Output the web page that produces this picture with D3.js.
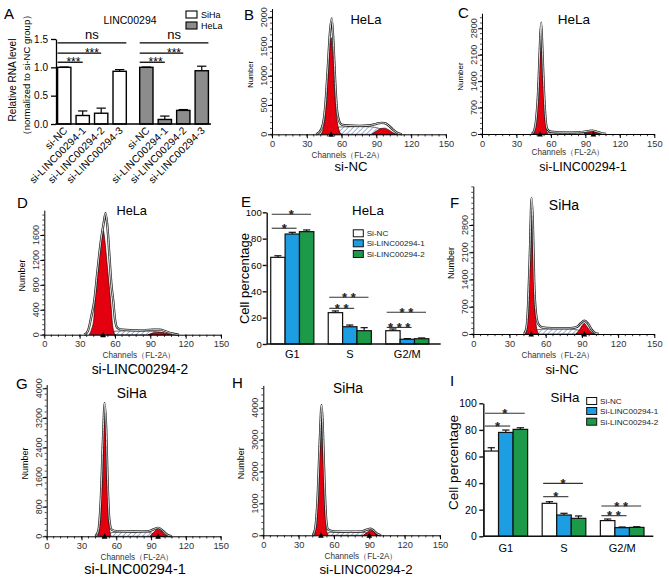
<!DOCTYPE html>
<html><head><meta charset="utf-8">
<script src="https://cdn.jsdelivr.net/npm/d3@7"></script>
<style>body{margin:0;background:#fff}svg{display:block}</style>
</head><body><svg id="c" width="669" height="578"></svg>
<script>
// ================= DATA =================
// Panel A: relative RNA level
const rnaGroups = ["SiHa", "HeLa"];
const rnaCategories = ["si-NC", "si-LINC00294-1", "si-LINC00294-2", "si-LINC00294-3"];
const rnaSiHa = [1.00, 0.15, 0.19, 0.93];
const rnaSiHaErr = [0.005, 0.08, 0.09, 0.03];
const rnaHeLa = [1.00, 0.08, 0.24, 0.94];
const rnaHeLaErr = [0.005, 0.06, 0.015, 0.08];
const rnaTicks = [0, 0.5, 1.0, 1.5];
// brackets: [from, to, y value, label, labelFrom, labelTo]
const rnaBrackets = [[0, 3, 1.43, "ns", 0, 3], [0, 2, 1.25, "***", 1, 2], [0, 1, 1.09, "***", 0, 1]];

// Cell-cycle percentages (panels E and I)
const phases = ["G1", "S", "G2/M"];
const treatments = ["Si-NC", "Si-LINC00294-1", "Si-LINC00294-2"];
const pctTicks = [0, 20, 40, 60, 80, 100];
const helaNC = [65.8, 23.8, 10.1];
const helaKD1 = [83.5, 13.1, 3.6];
const helaKD2 = [85.3, 10.1, 4.0];
const helaNCErr = [1.2, 1.3, 1.3];
const helaKD1Err = [1.3, 1.3, 0.5];
const helaKD2Err = [1.3, 2.3, 0.6];
const sihaNC = [64.1, 24.8, 11.8];
const sihaKD1 = [78.1, 16.0, 6.5];
const sihaKD2 = [80.4, 13.5, 6.7];
const sihaNCErr = [2.5, 1.2, 1.2];
const sihaKD1Err = [1.8, 1.3, 0.5];
const sihaKD2Err = [1.2, 1.8, 0.5];
// brackets: [phase index, from treatment, to treatment, y value, label]
const helaBrackets = [[0, 0, 2, 98.5, "*"], [0, 0, 1, 87.9, "*"], [1, 0, 2, 35.5, "* *"], [1, 0, 1, 27.1, "* *"], [2, 0, 2, 24.1, "* *"], [2, 0, 1, 12.6, "* * *"]];
const sihaBrackets = [[0, 0, 2, 92.5, "*"], [0, 0, 1, 82.9, "*"], [1, 0, 2, 39.8, "*"], [1, 0, 1, 29.8, "*"], [2, 0, 2, 22.8, "* *"], [2, 0, 1, 15.5, "* *"]];

// Flow-cytometry histograms: [channel, count]
const channelTicks = [0, 30, 60, 90, 120, 150];
// B: HeLa si-NC
const helaNC_total = [[38,0],[41,40],[44,180],[46,500],[48,1100],[50,1750],[51.5,1980],[53,1550],[54.5,900],[56,420],[58,220],[60,165],[65,150],[75,145],[85,155],[90,180],[94,195],[97,190],[100,160],[104,85],[108,25],[112,0]];
const helaNC_g1 = [[42,0],[44,80],[46,350],[48,900],[50,1500],[51,1650],[52.5,1350],[54,700],[56,250],[58,60],[60,0]];
const helaNC_g2 = [[86,0],[90,55],[94,100],[97,105],[101,70],[105,20],[108,0]];
const helaNC_s = [[51,0],[54,90],[58,125],[70,130],[82,130],[90,115],[96,70],[102,25],[106,0]];
const helaNC_marks = [51];
const helaNC_yticks = [0, 500, 1000, 1500, 2000];
// C: HeLa si-LINC00294-1
const helaKD1_total = [[43,0],[45,60],[47,350],[49,1200],[50.5,2400],[51.5,2950],[52.5,2300],[54,1100],[55.5,350],[57,120],[60,60],[70,45],[85,50],[92,75],[96,90],[100,60],[104,20],[108,0]];
const helaKD1_g1 = [[44.5,0],[46.5,200],[48.5,900],[50,2100],[51.5,2930],[52.5,2200],[54,900],[55.5,250],[57,0]];
const helaKD1_g2 = [[89,0],[93,45],[97,70],[101,40],[105,0]];
const helaKD1_s = [[54,0],[58,40],[70,40],[85,40],[92,28],[98,0]];
const helaKD1_marks = [50.5, 97];
const helaKD1_yticks = [0, 700, 1400, 2100, 2800];
// D: HeLa si-LINC00294-2
const helaKD2_total = [[34,0],[37,60],[40,300],[42.5,550],[45,1000],[48,1500],[50.5,1800],[52,1950],[53.5,1750],[55.5,1200],[57,800],[58.5,550],[60,250],[62,110],[66,80],[80,70],[92,80],[98,80],[103,55],[108,20],[114,0]];
const helaKD2_g1 = [[38,0],[40,80],[42,250],[43,550],[45,950],[47,1300],[48.5,1550],[50,1670],[51.5,1500],[53,1200],[55,800],[56.5,500],[58,150],[60,0]];
const helaKD2_g2 = [[88,0],[93,30],[98,40],[103,25],[108,0]];
const helaKD2_s = [[53,0],[57,50],[65,60],[80,60],[92,55],[100,32],[106,0]];
const helaKD2_marks = [50];
const helaKD2_yticks = [0, 400, 800, 1200, 1600];
// F: SiHa si-NC
const sihaNC_total = [[42,0],[44,150],[45.5,800],[47,2200],[48.3,3500],[49.3,2900],[50.5,1300],[52,520],[54,250],[57,170],[65,150],[80,150],[86,185],[89,270],[92,340],[95,270],[98,115],[101,25],[104,0]];
const sihaNC_g1 = [[43,0],[45,400],[46.5,1500],[48,3450],[49.2,2700],[50.5,1100],[52,250],[54,0]];
const sihaNC_g2 = [[85,0],[88,110],[90.5,230],[92,275],[94,200],[97,70],[100,0]];
const sihaNC_s = [[50,0],[53,110],[60,125],[75,125],[85,115],[90,70],[95,15],[98,0]];
const sihaNC_marks = [48, 92];
const sihaNC_yticks = [0, 700, 1400, 2100, 2800];
// G: SiHa si-LINC00294-1
const sihaKD1_total = [[42,0],[44.5,150],[46.5,900],[48.5,2600],[50,3600],[51.3,2900],[52.5,1500],[54,450],[56,180],[60,140],[75,130],[88,140],[92,185],[96,230],[100,155],[104,40],[108,0]];
const sihaKD1_g1 = [[44,0],[46,400],[48,1700],[49.7,3450],[51,2600],[52.5,1100],[54,250],[55.5,0]];
const sihaKD1_g2 = [[89,0],[92,100],[95.5,190],[99,130],[102,40],[105,0]];
const sihaKD1_s = [[52,0],[56,100],[70,115],[86,115],[92,70],[98,15],[102,0]];
const sihaKD1_marks = [50, 96];
const sihaKD1_yticks = [0, 800, 1600, 2400, 3200, 4000];
// H: SiHa si-LINC00294-2
const sihaKD2_total = [[42,0],[44,200],[46,1100],[48,3000],[49.5,4080],[50.5,3400],[52,1600],[53.5,450],[55,180],[60,125],[75,115],[84,125],[88,180],[91,205],[94,140],[97,40],[100,0]];
const sihaKD2_g1 = [[43.5,0],[45.5,600],[47.5,2200],[49,3820],[50.3,3000],[51.8,1200],[53.5,200],[55,0]];
const sihaKD2_g2 = [[85,0],[88,90],[91,160],[94,110],[97,25],[99,0]];
const sihaKD2_s = [[52,0],[56,90],[70,100],[84,100],[90,50],[95,10],[98,0]];
const sihaKD2_marks = [49, 90];
const sihaKD2_yticks = [0, 1000, 2000, 3000, 4000];

// ================= DRAWING =================
const FONT = '"Liberation Sans", Arial, Helvetica, sans-serif';
const svg = d3.select("#c");
svg.append("rect").attr("width", 669).attr("height", 578).attr("fill", "#fff");
const defs = svg.append("defs");
const pat = defs.append("pattern").attr("id", "hatch").attr("width", 3.5).attr("height", 3.5)
  .attr("patternUnits", "userSpaceOnUse").attr("patternTransform", "rotate(45)");
pat.append("rect").attr("width", 3.5).attr("height", 3.5).attr("fill", "#fff");
pat.append("line").attr("x1", 0).attr("y1", 0).attr("x2", 0).attr("y2", 3.5).attr("stroke", "#5474b8").attr("stroke-width", 1.1);

function txt(g, x, y, s, size, o = {}) {
  const t = g.append("text").attr("x", x).attr("y", y).text(s)
    .attr("font-size", size).attr("font-family", FONT).attr("fill", o.fill || "#000");
  if (o.anchor) t.attr("text-anchor", o.anchor);
  if (o.rotate != null) t.attr("transform", `rotate(${o.rotate},${x},${y})`);
  if (o.weight) t.attr("font-weight", o.weight);
  if (o.ls) t.attr("letter-spacing", o.ls);
  return t;
}

// ---------- Panel A ----------
(function () {
  const g = svg.append("g");
  const y = d3.scaleLinear().domain([0, 1.5]).range([124, 39]);
  const xo = d3.scaleBand().domain(rnaGroups).range([55, 211]).paddingInner(0.1).paddingOuter(0);
  const xi = d3.scaleBand().domain(rnaCategories).range([0, xo.bandwidth()]).paddingInner(0.28).paddingOuter(0.14);
  const bw = xi.bandwidth();
  const vals = { SiHa: rnaSiHa, HeLa: rnaHeLa };
  const errs = { SiHa: rnaSiHaErr, HeLa: rnaHeLaErr };
  const fills = { SiHa: "#ffffff", HeLa: "#8c8c8c" };
  rnaGroups.forEach(gr => {
    rnaCategories.forEach((c, i) => {
      const bx = xo(gr) + xi(c);
      const v = vals[gr][i], e = errs[gr][i];
      g.append("line").attr("x1", bx + bw / 2).attr("x2", bx + bw / 2).attr("y1", y(v)).attr("y2", y(v + e)).attr("stroke", "#000").attr("stroke-width", 1.2);
      g.append("line").attr("x1", bx + bw * 0.15).attr("x2", bx + bw * 0.85).attr("y1", y(v + e)).attr("y2", y(v + e)).attr("stroke", "#000").attr("stroke-width", 1.2);
      g.append("rect").attr("x", bx).attr("y", y(v)).attr("width", bw).attr("height", y(0) - y(v))
        .attr("fill", fills[gr]).attr("stroke", "#000").attr("stroke-width", 1.4);
      const lx = bx + bw / 2 + 4;
      txt(g, lx, 131, c, 10.3, { anchor: "end", rotate: -45, ls: 0.2 });
    });
    rnaBrackets.forEach(b => {
      const x0 = xo(gr) + xi(rnaCategories[b[0]]);
      const x1 = b[1] === 3 ? xo(gr) + xi(rnaCategories[b[1]]) + bw : xo(gr) + xi(rnaCategories[b[1]]) + bw / 2;
      g.append("line").attr("x1", x0).attr("x2", x1).attr("y1", y(b[2])).attr("y2", y(b[2])).attr("stroke", "#000").attr("stroke-width", 1.3);
      const cx = (xo(gr) + xi(rnaCategories[b[4]]) + xo(gr) + xi(rnaCategories[b[5]]) + bw) / 2;
      if (b[3] === "ns") txt(g, cx, y(b[2]) - 4, b[3], 13, { anchor: "middle" });
      else txt(g, cx, y(b[2]) + 3.8, b[3], 12, { anchor: "middle" });
    });
  });
  const ya = g.append("g").attr("transform", "translate(56,0)")
    .call(d3.axisLeft(y).tickValues(rnaTicks).tickFormat(d3.format(".1f")).tickSize(5).tickSizeOuter(0).tickPadding(3));
  ya.selectAll("text").attr("font-size", 10).attr("font-family", FONT);
  ya.selectAll("path,line").attr("stroke", "#000").attr("stroke-width", 1.3);
  g.append("line").attr("x1", 55.5).attr("x2", 211).attr("y1", y(0)).attr("y2", y(0)).attr("stroke", "#000").attr("stroke-width", 1.4);
  txt(g, 16, 80, "Relative RNA level", 10, { anchor: "middle", rotate: -90 });
  txt(g, 30, 75, "（normalized to si-NC group）", 9.5, { anchor: "middle", rotate: -90 });
  txt(g, 130, 24, "LINC00294", 10.5, { anchor: "middle" });
  g.append("rect").attr("x", 186).attr("y", 11).attr("width", 11).attr("height", 7).attr("fill", "#fff").attr("stroke", "#000").attr("stroke-width", 1.1);
  g.append("rect").attr("x", 186).attr("y", 22).attr("width", 11).attr("height", 7).attr("fill", "#8c8c8c").attr("stroke", "#000").attr("stroke-width", 1.1);
  txt(g, 201, 17.5, "SiHa", 9);
  txt(g, 201, 28.5, "HeLa", 9);
  txt(g, 4, 19, "A", 15);
})();

// ---------- Flow histogram panels ----------
function flowPanel(p) {
  const g = svg.append("g");
  const x = d3.scaleLinear().domain([0, 150]).range([p.x0, p.x1]);
  const y = d3.scaleLinear().domain([0, p.ymax]).range([p.base, p.top]);
  const area = d3.area().x(d => x(d[0])).y0(y(0)).y1(d => y(d[1])).curve(d3.curveMonotoneX);
  const line = d3.line().x(d => x(d[0])).y(d => y(d[1])).curve(d3.curveMonotoneX);
  g.append("path").datum(p.s).attr("d", area).attr("fill", "url(#hatch)").attr("stroke", "#333").attr("stroke-width", 0.7);
  g.append("path").datum(p.g1).attr("d", area).attr("fill", "#e3000f").attr("stroke", "#3a0000").attr("stroke-width", 0.7);
  g.append("path").datum(p.g2).attr("d", area).attr("fill", "#e3000f").attr("stroke", "#3a0000").attr("stroke-width", 0.7);
  g.append("path").datum(p.total).attr("d", line).attr("fill", "none").attr("stroke", "#1a1a1a").attr("stroke-width", 2.3);
  g.append("path").datum(p.total).attr("d", line).attr("fill", "none").attr("stroke", "#f2f2f2").attr("stroke-width", 0.9);
  // x axis
  const xa = g.append("g").attr("transform", `translate(0,${p.base})`)
    .call(d3.axisBottom(x).tickValues(channelTicks).tickSize(4).tickSizeOuter(0).tickPadding(2));
  xa.selectAll("text").attr("font-size", 9.3).attr("font-family", FONT).attr("fill", "#333");
  xa.selectAll("path,line").attr("stroke", "#000").attr("stroke-width", 1);
  g.selectAll(null).data(d3.range(0, 151, 6)).enter().append("line")
    .attr("x1", d => x(d)).attr("x2", d => x(d)).attr("y1", p.base).attr("y2", p.base + 2.2).attr("stroke", "#000").attr("stroke-width", 0.8);
  // y axis
  const ya = g.append("g").attr("transform", `translate(${p.x0},0)`)
    .call(d3.axisLeft(y).tickValues(p.yticks).tickSize(4).tickSizeOuter(0).tickFormat(""));
  ya.selectAll("path,line").attr("stroke", "#000").attr("stroke-width", 1);
  const step = p.yticks[1] / 5;
  g.selectAll(null).data(d3.range(0, p.ymax, step)).enter().append("line")
    .attr("x1", p.x0).attr("x2", p.x0 - 2).attr("y1", d => y(d)).attr("y2", d => y(d)).attr("stroke", "#000").attr("stroke-width", 0.7);
  p.yticks.forEach(t => txt(g, p.x0 - 5, y(t), String(t), 9, { anchor: "middle", rotate: -90, fill: "#333" }));
  // markers
  p.marks.forEach(m => {
    const mx = x(m);
    g.append("path").attr("d", `M${mx - 2.8},${p.base + 2.5}L${mx + 2.8},${p.base + 2.5}L${mx},${p.base - 3}Z`).attr("fill", "#000");
  });
  txt(g, p.x0 - 22 + p.numSize * 0.35, (p.base + p.top) / 2 + 3, "Number", p.numSize, { anchor: "middle", rotate: -90 });
  txt(g, p.chanX, p.chanY + 1.5, "Channels（FL-2A）", 8.2, { anchor: "middle", fill: "#333" });
  txt(g, p.titleX, p.titleY, p.title, p.titleSize, { anchor: "middle" });
  txt(g, p.sampleX, p.sampleY + 0.5, p.sample, p.sampleSize, { anchor: "middle" });
  txt(g, p.letterX, p.letterY, p.letter, 15);
}

flowPanel({ x0: 272, x1: 446, base: 134.3, top: 8.5, ymax: 2150, yticks: helaNC_yticks,
  total: helaNC_total, g1: helaNC_g1, g2: helaNC_g2, s: helaNC_s, marks: helaNC_marks, numSize: 7.5,
  chanX: 348, chanY: 156, title: "HeLa", titleX: 366, titleY: 24, titleSize: 13,
  sample: "si-NC", sampleX: 351, sampleY: 170, sampleSize: 13.2, letter: "B", letterX: 244, letterY: 20 });
flowPanel({ x0: 482, x1: 654.3, base: 134, top: 13.2, ymax: 3200, yticks: helaKD1_yticks,
  total: helaKD1_total, g1: helaKD1_g1, g2: helaKD1_g2, s: helaKD1_s, marks: helaKD1_marks, numSize: 8,
  chanX: 568, chanY: 153, title: "HeLa", titleX: 574, titleY: 24, titleSize: 13.5,
  sample: "si-LINC00294-1", sampleX: 583, sampleY: 170, sampleSize: 12.5, letter: "C", letterX: 458, letterY: 18 });
flowPanel({ x0: 44.3, x1: 221, base: 334.7, top: 210.1, ymax: 2000, yticks: helaKD2_yticks,
  total: helaKD2_total, g1: helaKD2_g1, g2: helaKD2_g2, s: helaKD2_s, marks: helaKD2_marks, numSize: 9,
  chanX: 139, chanY: 356, title: "HeLa", titleX: 131.7, titleY: 215, titleSize: 12.8,
  sample: "si-LINC00294-2", sampleX: 140, sampleY: 373, sampleSize: 13.8, letter: "D", letterX: 17, letterY: 208 });
flowPanel({ x0: 473.3, x1: 654.3, base: 334, top: 186.1, ymax: 3800, yticks: sihaNC_yticks,
  total: sihaNC_total, g1: sihaNC_g1, g2: sihaNC_g2, s: sihaNC_s, marks: sihaNC_marks, numSize: 9,
  chanX: 558, chanY: 356, title: "SiHa", titleX: 564, titleY: 210, titleSize: 14,
  sample: "si-NC", sampleX: 562, sampleY: 373, sampleSize: 13.3, letter: "F", letterX: 450, letterY: 208 });
flowPanel({ x0: 46.7, x1: 220.7, base: 536.3, top: 384.6, ymax: 4100, yticks: sihaKD1_yticks,
  total: sihaKD1_total, g1: sihaKD1_g1, g2: sihaKD1_g2, s: sihaKD1_s, marks: sihaKD1_marks, numSize: 9,
  chanX: 137, chanY: 558, title: "SiHa", titleX: 131.7, titleY: 398, titleSize: 13.8,
  sample: "si-LINC00294-1", sampleX: 135, sampleY: 573, sampleSize: 14.5, letter: "G", letterX: 16, letterY: 389 });
flowPanel({ x0: 263.3, x1: 440, base: 535.3, top: 385.4, ymax: 4700, yticks: sihaKD2_yticks,
  total: sihaKD2_total, g1: sihaKD2_g1, g2: sihaKD2_g2, s: sihaKD2_s, marks: sihaKD2_marks, numSize: 9,
  chanX: 361, chanY: 557, title: "SiHa", titleX: 348, titleY: 393, titleSize: 13.8,
  sample: "si-LINC00294-2", sampleX: 366, sampleY: 573, sampleSize: 13.3, letter: "H", letterX: 232, letterY: 388 });

// ---------- Cell-cycle bar panels ----------
function cyclePanel(p) {
  const g = svg.append("g");
  const y = d3.scaleLinear().domain([0, 100]).range([p.base, p.top]);
  const xo = d3.scaleBand().domain(phases).range([p.ax, p.bandEnd]).paddingInner(0.25).paddingOuter(p.po);
  const xi = d3.scaleBand().domain(treatments).range([0, xo.bandwidth()]);
  const bw = xi.bandwidth();
  const colors = ["#ffffff", "#1d9de2", "#1c9a4a"];
  treatments.forEach((t, j) => {
    phases.forEach((ph, i) => {
      const bx = xo(ph) + xi(t), v = p.vals[j][i], e = p.errs[j][i];
      g.append("line").attr("x1", bx + bw / 2).attr("x2", bx + bw / 2).attr("y1", y(v)).attr("y2", y(v + e)).attr("stroke", "#111").attr("stroke-width", 1.2);
      g.append("line").attr("x1", bx + bw * 0.25).attr("x2", bx + bw * 0.75).attr("y1", y(v + e)).attr("y2", y(v + e)).attr("stroke", "#111").attr("stroke-width", 1.2);
      g.append("rect").attr("x", bx).attr("y", y(v)).attr("width", bw).attr("height", y(0) - y(v))
        .attr("fill", colors[j]).attr("stroke", "#111").attr("stroke-width", 1.2);
    });
  });
  p.brackets.forEach(b => {
    const ph = phases[b[0]];
    const x0 = xo(ph) + xi(treatments[b[1]]) + 1;
    const x1 = xo(ph) + xi(treatments[b[2]]) + bw * 0.8;
    g.append("line").attr("x1", x0).attr("x2", x1).attr("y1", y(b[3])).attr("y2", y(b[3])).attr("stroke", "#333").attr("stroke-width", 1.1);
    txt(g, (x0 + x1) / 2, y(b[3]) + 4.6, b[4], 13, { anchor: "middle", fill: "#222", weight: "bold" });
  });
  const ya = g.append("g").attr("transform", `translate(${p.ax},0)`)
    .call(d3.axisLeft(y).tickValues(pctTicks).tickSize(4).tickSizeOuter(0).tickPadding(p.tp));
  ya.selectAll("text").attr("font-size", p.tickSize).attr("font-family", FONT);
  ya.selectAll("path,line").attr("stroke", "#111").attr("stroke-width", 1.4);
  g.append("line").attr("x1", p.ax).attr("x2", p.axisEnd).attr("y1", y(0)).attr("y2", y(0)).attr("stroke", "#111").attr("stroke-width", 1.4);
  phases.forEach(ph => txt(g, xo(ph) + xo.bandwidth() / 2, p.catY, ph, 11, { anchor: "middle" }));
  txt(g, p.ylabX, p.ylabY, "Cell percentage", p.ylabSize, { anchor: "middle", rotate: -90 });
  txt(g, p.titleX, p.titleY, p.title, 13.3, { anchor: "middle" });
  treatments.forEach((t, j) => {
    g.append("rect").attr("x", p.legX).attr("y", p.legY[j] - 3.5).attr("width", 10).attr("height", 7)
      .attr("fill", colors[j]).attr("stroke", "#111").attr("stroke-width", 1);
    txt(g, p.legX + 13.4, p.legY[j] + 3, t, 8.1, { fill: "#222" });
  });
  txt(g, p.letterX, p.letterY, p.letter, 15);
}

cyclePanel({ base: 344, top: 212.3, ax: 266.7, bandEnd: 432.9, po: 0.07, axisEnd: 440.7, tp: 1, tickSize: 9.5,
  vals: [helaNC, helaKD1, helaKD2], errs: [helaNCErr, helaKD1Err, helaKD2Err], brackets: helaBrackets,
  catY: 358, ylabX: 248.5, ylabY: 278.5, ylabSize: 13, title: "HeLa", titleX: 368, titleY: 215,
  legX: 353.3, legY: [233.3, 243.3, 254], letter: "E", letterX: 241, letterY: 206.5 });
cyclePanel({ base: 536.3, top: 403.3, ax: 483.3, bandEnd: 644.7, po: 0.012, axisEnd: 653.3, tp: 2.5, tickSize: 10.5,
  vals: [sihaNC, sihaKD1, sihaKD2], errs: [sihaNCErr, sihaKD1Err, sihaKD2Err], brackets: sihaBrackets,
  catY: 551.7, ylabX: 457.7, ylabY: 462.5, ylabSize: 13.6, title: "SiHa", titleX: 565, titleY: 402,
  legX: 586.7, legY: [401, 411, 421.7], letter: "I", letterX: 450, letterY: 386 });
</script>
</body></html>
